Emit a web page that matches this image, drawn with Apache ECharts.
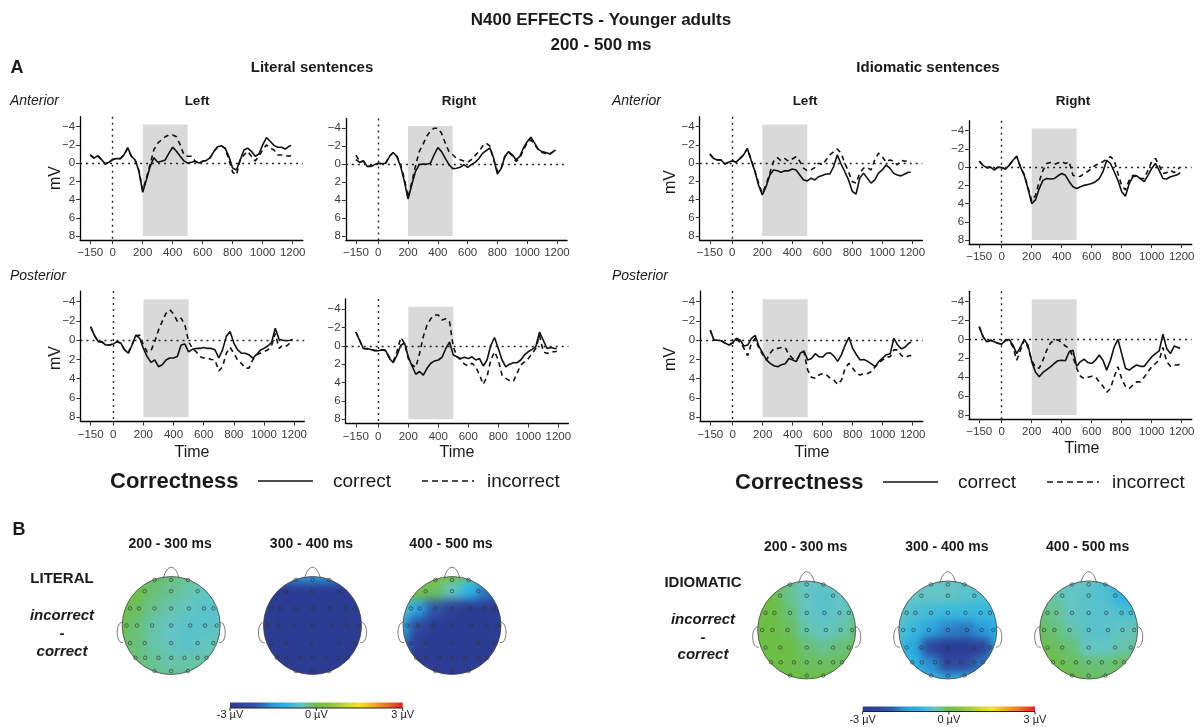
<!DOCTYPE html>
<html>
<head>
<meta charset="utf-8">
<script src="https://cdn.jsdelivr.net/npm/echarts@6/dist/echarts.min.js"></script>
<style>
  html, body { margin: 0; padding: 0; background: #fff; }
  #stage { position: relative; width: 1202px; height: 727px; overflow: hidden; }
  #main { position: absolute; left: 0; top: 0; width: 1202px; height: 727px; z-index: 2; }
  .topo { position: absolute; z-index: 1; filter: blur(5px); }
</style>
</head>
<body>
<div id="stage"><div id="main"></div></div>
<script>
// ---------- ERP data (µV, negative plotted upward) ----------
const timesMs = [-150,-125,-100,-75,-50,-25,0,25,50,75,100,125,150,175,200,225,250,275,300,325,350,375,400,425,450,475,500,525,550,575,600,625,650,675,700,725,750,775,800,825,850,875,900,925,950,975,1000,1025,1050,1075,1100,1125,1150,1175,1190];

const litAntLeftCorrect = [-0.9,-0.55,-0.8,-0.4,0.1,-0.1,-0.4,-0.5,-0.5,-0.9,-1.7,-0.75,-0.35,0.9,3.2,1.8,0.35,-0.6,-0.1,-0.2,-0.35,-1.1,-1.75,-1.3,-0.75,-0.25,0,-0.1,-0.2,0,-0.2,-0.3,-0.6,-1.3,-1.8,-1.9,-1.65,-0.7,0.55,0.75,-0.35,-1.45,-1.65,-1.3,-0.75,-1.0,-2.0,-2.8,-2.4,-1.95,-1.75,-1.75,-1.55,-1.85,-1.95];
const litAntLeftIncorrect = [-0.9,-0.55,-0.8,-0.4,0.1,-0.1,-0.4,-0.5,-0.5,-0.9,-1.6,-0.75,-0.3,0.8,3.0,1.6,0.1,-1.5,-2.2,-2.55,-2.9,-3.1,-3.1,-2.9,-2.0,-0.9,-0.75,-0.75,-0.2,0,-0.2,-0.3,-0.6,-1.3,-1.8,-1.9,-1.6,-0.35,1.0,1.3,-0.35,-0.9,-1.3,-0.75,-0.25,-0.75,-1.45,-2.0,-1.65,-1.45,-0.9,-0.9,-0.85,-0.75,-0.85];

const litAntRightCorrect = [-0.5,-0.2,-0.35,0.25,0.25,0.05,-0.1,-0.05,-0.1,-0.85,-1.3,-0.85,0.25,1.9,3.9,2.3,0.8,0.05,0,0,-0.1,-1.05,-1.85,-1.4,-0.65,0.05,0.5,0.45,0.35,0.05,0.35,0.05,-0.2,-0.6,-1.2,-1.5,-1.8,-0.65,1.1,0.5,-0.85,-1.4,-1.05,-0.5,-0.85,-1.8,-2.5,-3.0,-2.35,-1.65,-1.4,-1.3,-1.15,-1.4,-1.6];
const litAntRightIncorrect = [-1.0,-0.3,-0.35,0.25,0.2,0.05,-0.1,-0.05,-0.15,-0.9,-1.3,-0.9,0.1,1.6,3.7,2.0,0.2,-1.4,-2.2,-3.1,-3.7,-4.0,-4.0,-3.45,-2.35,-1.4,-1.05,-0.65,-0.5,-0.35,-0.2,-0.5,-0.95,-1.4,-2.0,-2.35,-2.0,-0.5,0.8,0.45,-0.85,-1.3,-0.95,-0.3,-0.65,-1.6,-2.35,-2.7,-2.2,-1.6,-1.3,-1.2,-1.05,-1.4,-1.8];

const litPostLeftCorrect = [-1.4,-0.5,0.15,0.15,0.5,0.5,0.4,0.15,0.3,1.0,1.35,0.5,-0.55,-0.2,0.85,1.7,2.3,2.05,2.75,2.55,2.05,1.85,1.85,1.7,0.5,0.4,1.2,0.95,0.85,0.85,0.75,0.85,0.85,1.0,1.85,1.0,-0.4,-0.9,0.3,1.0,1.35,1.35,1.5,1.85,1.5,1.05,0.85,0.6,0.25,-1.25,-0.1,0,0.05,0,-0.1];
const litPostLeftIncorrect = [-1.4,-0.5,0.15,0.2,0.5,0.5,0.4,0.15,0.3,1.0,1.3,0.4,-0.4,-0.55,0.5,1.2,1.1,0.15,-1.05,-1.95,-2.8,-3.15,-2.75,-1.95,-2.3,-1.6,0.15,0.85,1.2,1.7,1.85,1.85,2.0,2.05,3.2,2.75,1.35,0.75,1.35,2.05,2.4,2.9,2.9,2.05,1.5,1.35,1.2,1.0,0.6,-0.7,0.85,0.5,0.6,0.25,0.3];

const litPostRightCorrect = [-1.5,-0.6,0.3,0.3,0.4,0.55,0.55,0.45,0.55,1.4,1.85,1.0,-0.05,-0.3,1.2,2.2,3.1,2.8,3.2,2.45,1.9,1.65,1.55,1.25,0.3,-0.4,1.0,1.2,1.4,1.25,1.4,1.2,1.55,1.4,2.2,1.55,-0.05,-0.9,0.3,1.55,2.3,2.0,1.85,1.85,1.55,1.0,0.65,0.4,0.1,-1.5,-0.6,0.3,0.2,0.3,0.3];
const litPostRightIncorrect = [-1.5,-0.6,0.3,0.35,0.4,0.5,0.5,0.4,0.5,1.3,1.7,0.6,-0.9,-0.25,1.4,2.1,2.35,0.85,-1.0,-2.25,-2.95,-3.35,-3.35,-2.8,-2.95,-2.6,0.1,1.2,1.55,2.0,2.2,1.9,2.3,3.2,4.2,3.35,1.55,0.65,1.55,3.2,3.55,3.8,3.9,3.0,2.1,1.75,1.4,0.85,0.3,-1.15,0.65,0.85,0.65,0.65,0.6];

const idiAntLeftCorrect = [-1.0,-0.5,-0.35,-0.35,0.1,-0.1,-0.25,-0.1,-0.5,-0.9,-1.6,-0.35,0.9,2.4,3.5,2.6,1.3,0.75,0.85,1.0,0.85,0.85,0.65,0.75,1.3,1.85,1.95,1.65,1.85,1.5,1.35,1.2,1.2,0.4,-0.9,0.1,0.95,1.85,3.1,3.4,1.65,1.1,1.65,2.2,1.85,1.1,0.75,0.2,0.55,1.1,1.3,1.4,1.2,1.0,1.0];
const idiAntLeftIncorrect = [-1.0,-0.5,-0.35,-0.35,0.1,-0.1,-0.25,-0.1,-0.5,-0.9,-1.6,-0.4,0.8,2.2,3.3,2.4,1.1,-0.2,-0.6,-0.25,-0.5,-0.2,-0.45,-0.7,-0.2,0.55,0.85,0.75,0.5,0,0.2,-0.35,-0.9,-1.25,-1.55,-1.1,0,0.95,2.05,2.2,1.1,0.55,0.5,0.75,-0.35,-1.1,-0.7,-0.1,-0.35,-0.25,0.2,-0.3,-0.2,-0.3,-0.2];

const idiAntRightCorrect = [-0.65,-0.2,0.05,0,0.3,0,0.05,0.2,-0.2,-0.75,-1.2,0,0.9,2.35,4.0,3.6,2.35,1.45,1.25,1.3,1.25,0.95,0.7,0.9,1.6,2.15,2.35,2.15,2.0,1.9,1.8,1.6,1.25,0.5,-0.75,-0.4,0.5,1.45,2.7,3.2,1.8,1.05,0.95,1.25,1.6,0.9,0.15,-0.4,0.35,1.25,1.3,1.05,0.95,0.8,0.6];
const idiAntRightIncorrect = [-0.65,-0.2,0.05,0,0.3,0,0.05,0.2,-0.2,-0.75,-1.2,0,0.8,2.2,3.7,3.1,1.6,0.35,-0.4,-0.5,-0.3,-0.45,-0.6,-0.4,-0.6,0.9,1.05,1.0,0.7,0.45,0.15,-0.2,-0.4,-0.6,-0.9,-1.15,-0.75,0.7,2.0,2.5,1.45,0.9,0.95,1.25,1.25,0.35,-0.6,-0.95,-0.2,0.7,0.6,0.35,0.6,0.2,0];

const idiPostLeftCorrect = [-1.05,0,0,0.05,0.3,0.5,0.25,-0.2,0,0.6,0.5,-0.2,-0.5,0.65,1.35,2.05,2.4,2.65,2.75,2.55,2.45,1.9,2.05,2.2,1.35,1.1,2.05,1.9,1.4,1.7,1.75,1.35,1.3,1.65,2.2,1.5,0.5,-0.3,0.85,1.5,2.05,2.0,2.2,2.45,2.75,2.2,1.85,1.5,1.4,-0.2,0.5,0.9,0.7,0.3,0.2];
const idiPostLeftIncorrect = [-1.05,0,0,0.1,0.3,0.5,0.3,-0.1,0.2,0.85,1.6,0.3,-0.2,0.85,1.5,2.05,1.35,0.85,0.85,0.75,0.75,1.5,1.9,2.05,1.5,1.2,3.1,3.85,3.95,3.6,3.45,3.6,3.95,4.15,4.6,4.15,2.9,2.4,2.9,3.45,3.6,3.45,3.45,3.25,2.75,2.35,2.05,1.75,1.7,1.0,1.0,1.6,1.8,1.6,1.6];

const idiPostRightCorrect = [-1.35,-0.3,0.25,0.05,0.25,0.4,0.5,0.05,0,0.6,1.5,0.8,0,0.6,2.35,3.45,3.95,3.5,3.2,2.9,2.55,2.25,2.2,2.25,1.3,1.15,2.85,2.35,2.1,2.45,2.55,2.2,1.65,2.2,3.25,2.2,0.8,0,1.5,3.05,3.25,2.95,2.7,2.85,2.85,2.35,1.85,1.5,1.2,-0.55,0.95,1.5,0.7,0.85,0.95];
const idiPostRightIncorrect = [-1.35,-0.3,0.25,0.1,0.25,0.4,0.5,0.1,0.1,0.8,2.2,1.15,0.05,0.85,2.2,2.95,3.05,2.2,1.15,0.4,0.05,0.05,0.35,0.7,0.95,1.85,3.05,3.9,4.15,4.0,3.9,3.95,4.5,4.95,5.6,5.2,3.95,2.9,4.15,5.0,5.2,4.85,4.5,4.5,4.0,3.45,2.9,2.55,2.2,0.85,2.35,2.85,2.7,2.7,2.6];

const xTicks = [-150, 0, 200, 400, 600, 800, 1000, 1200];
const yTicks = [-4, -2, 0, 2, 4, 6, 8];
const windowMs = [200, 500];
const shadeMv = [-4.25, 8];

// ---------- topographic difference maps (incorrect - correct, µV), 7x7, front row first ----------
const litTopo200 = [
  [ 0.1, 0.0,-0.1,-0.2,-0.3,-0.4,-0.4],
  [ 0.1, 0.0,-0.2,-0.3,-0.4,-0.5,-0.5],
  [ 0.1,-0.1,-0.3,-0.4,-0.5,-0.6,-0.6],
  [ 0.0,-0.2,-0.4,-0.5,-0.6,-0.6,-0.5],
  [-0.1,-0.2,-0.4,-0.5,-0.6,-0.5,-0.4],
  [-0.1,-0.2,-0.3,-0.4,-0.4,-0.4,-0.3],
  [-0.1,-0.2,-0.3,-0.3,-0.3,-0.3,-0.3]
];
const litTopo300 = [
  [-2.6,-2.0,-1.5,-1.4,-1.5,-2.0,-2.6],
  [-3.0,-3.0,-3.0,-3.0,-3.0,-3.0,-3.0],
  [-3.0,-3.0,-3.0,-3.0,-3.0,-3.0,-3.0],
  [-3.0,-3.0,-3.0,-3.0,-3.0,-3.0,-3.0],
  [-3.0,-3.0,-3.0,-3.0,-3.0,-3.0,-3.0],
  [-3.0,-3.0,-3.0,-3.0,-3.0,-3.0,-3.0],
  [-3.0,-3.0,-3.0,-3.0,-3.0,-3.0,-3.0]
];
const litTopo400 = [
  [ 0.3, 0.3, 0.3, 0.1,-0.3,-1.2,-2.4],
  [ 0.2, 0.1,-0.1,-0.5,-1.0,-1.8,-2.8],
  [-0.6,-1.3,-2.1,-2.7,-3.0,-3.0,-3.0],
  [-1.1,-2.3,-3.0,-3.0,-3.0,-3.0,-3.0],
  [-1.6,-2.8,-3.0,-3.0,-3.0,-3.0,-3.0],
  [-2.4,-3.0,-3.0,-3.0,-3.0,-3.0,-3.0],
  [-3.0,-3.0,-3.0,-3.0,-3.0,-3.0,-3.0]
];
const idiTopo200 = [
  [0.0, 0.0,-0.3,-0.5,-0.5,-0.4,-0.2],
  [0.0, 0.0,-0.3,-0.5,-0.6,-0.5,-0.3],
  [0.0, 0.0,-0.2,-0.5,-0.6,-0.5,-0.3],
  [0.0, 0.0,-0.1,-0.4,-0.5,-0.4,-0.2],
  [0.0, 0.0, 0.0,-0.2,-0.3,-0.2,-0.1],
  [0.0, 0.0, 0.0,-0.1,-0.1,-0.1, 0.0],
  [0.0, 0.0, 0.0, 0.0, 0.0, 0.0, 0.0]
];
const idiTopo300 = [
  [-0.5,-0.5,-0.5,-0.5,-0.5,-0.6,-0.7],
  [-0.5,-0.5,-0.5,-0.5,-0.6,-0.7,-0.8],
  [-0.5,-0.7,-0.8,-0.9,-0.9,-0.9,-0.9],
  [-0.6,-0.9,-1.3,-1.7,-1.8,-1.5,-1.0],
  [-0.8,-1.2,-2.5,-3.0,-3.0,-2.7,-1.2],
  [-0.7,-1.0,-1.6,-2.4,-2.4,-1.8,-1.0],
  [-0.6,-0.8,-0.9,-1.0,-1.0,-0.9,-0.8]
];
const idiTopo400 = [
  [-0.3,-0.4,-0.5,-0.5,-0.8,-1.4,-2.0],
  [-0.3,-0.4,-0.5,-0.6,-0.7,-1.1,-1.6],
  [-0.2,-0.3,-0.5,-0.6,-0.6,-0.7,-0.8],
  [-0.1,-0.2,-0.4,-0.6,-0.6,-0.5,-0.4],
  [ 0.0,-0.1,-0.2,-0.5,-0.5,-0.4,-0.3],
  [ 0.0, 0.0,-0.1,-0.2,-0.2,-0.1,-0.1],
  [ 0.0, 0.0, 0.0,-0.1,-0.1, 0.0, 0.0]
];

// electrode sites on the unit head circle (x right, y toward the back)
const electrodes = [
  [-0.34,-0.93],[0,-0.93],[0.34,-0.93],
  [-0.54,-0.70],[0,-0.70],[0.54,-0.70],
  [-0.84,-0.35],[-0.66,-0.35],[-0.34,-0.35],[0,-0.35],[0.36,-0.35],[0.67,-0.35],[0.86,-0.35],
  [-0.91,0],[-0.70,0],[-0.39,0],[0,0],[0.39,0],[0.69,0],[0.93,0],
  [-0.84,0.36],[-0.54,0.36],[0,0.36],[0.54,0.36],[0.86,0.36],
  [-0.73,0.66],[-0.53,0.66],[-0.26,0.66],[0,0.66],[0.27,0.66],[0.54,0.66],[0.72,0.66],
  [-0.34,0.93],[0,0.93],[0.34,0.93]
];

const scaleMin = -3, scaleMax = 3;
const scaleColors = ['#2c3c93','#2e449b','#2f5cad','#2b9bdc','#2db5e6','#64c5c4','#6dbe45','#8cc63f','#c4d82e','#f3e41c','#f5a81f','#ef6b22','#e31f27'];

// ---------- layout ----------
const FONT = '"Liberation Sans", Arial, Helvetica, sans-serif';
const panels = [
  { correct: litAntLeftCorrect,   incorrect: litAntLeftIncorrect,   box: [80.1, 116.7, 302.8, 240.1] },
  { correct: litAntRightCorrect,  incorrect: litAntRightIncorrect,  box: [345.9, 118.4, 567.0, 240.0] },
  { correct: litPostLeftCorrect,  incorrect: litPostLeftIncorrect,  box: [80.5, 291.1, 304.3, 421.6] },
  { correct: litPostRightCorrect, incorrect: litPostRightIncorrect, box: [345.7, 298.9, 568.4, 423.4] },
  { correct: idiAntLeftCorrect,   incorrect: idiAntLeftIncorrect,   box: [699.7, 116.7, 922.4, 240.0] },
  { correct: idiAntRightCorrect,  incorrect: idiAntRightIncorrect,  box: [969.1, 120.7, 1191.8, 244.1] },
  { correct: idiPostLeftCorrect,  incorrect: idiPostLeftIncorrect,  box: [700.1, 291.1, 922.8, 421.6] },
  { correct: idiPostRightCorrect, incorrect: idiPostRightIncorrect, box: [969.1, 291.3, 1191.8, 419.2] }
];

const HEAD_R = 49;
const heads = [
  { values: litTopo200, cx: 171.2, cy: 625.5, title: '200 - 300 ms', ty: 544 },
  { values: litTopo300, cx: 312.5, cy: 625.5, title: '300 - 400 ms', ty: 544 },
  { values: litTopo400, cx: 452.0, cy: 625.5, title: '400 - 500 ms', ty: 544 },
  { values: idiTopo200, cx: 806.7, cy: 630.0, title: '200 - 300 ms', ty: 547.5 },
  { values: idiTopo300, cx: 947.8, cy: 630.0, title: '300 - 400 ms', ty: 547.5 },
  { values: idiTopo400, cx: 1088.7, cy: 630.0, title: '400 - 500 ms', ty: 547.5 }
];

const minusSign = v => String(v).replace('-', '\u2212');

// ---------- ERP panels ----------
const grids = [], xAxes = [], yAxes = [], series = [];
panels.forEach((p, i) => {
  const [l, t, r, b] = p.box;
  grids.push({ left: l, top: t, width: r - l, height: b - t, outerBoundsMode: 'none' });
  xAxes.push({
    type: 'value', gridIndex: i, min: -217.5, max: 1267.5,
    splitLine: { show: false },
    axisLine: { onZero: false, lineStyle: { color: '#000', width: 1.3 } },
    axisTick: { customValues: xTicks, length: 4, lineStyle: { color: '#333', width: 1 } },
    axisLabel: { customValues: xTicks, formatter: minusSign, color: '#3a3a3a', fontSize: 11.5, fontFamily: FONT, margin: 7 }
  });
  yAxes.push({
    type: 'value', gridIndex: i, min: -5.1, max: 8.45, inverse: true,
    splitLine: { show: false },
    axisLine: { onZero: false, lineStyle: { color: '#000', width: 1.3 } },
    axisTick: { customValues: yTicks, length: 4, lineStyle: { color: '#333', width: 1 } },
    axisLabel: { customValues: yTicks, formatter: minusSign, color: '#3a3a3a', fontSize: 11.5, fontFamily: FONT, margin: 5 }
  });
  series.push({
    type: 'line', name: 'correct', xAxisIndex: i, yAxisIndex: i,
    data: timesMs.map((tm, k) => [tm, p.correct[k]]),
    showSymbol: false, symbol: 'none', z: 3,
    lineStyle: { color: '#111', width: 1.6 },
    emphasis: { disabled: true },
    markArea: {
      silent: true, itemStyle: { color: '#d9d9d9' },
      data: [[{ xAxis: windowMs[0], yAxis: shadeMv[0] }, { xAxis: windowMs[1], yAxis: shadeMv[1] }]]
    },
    markLine: {
      silent: true, symbol: ['none', 'none'], label: { show: false },
      lineStyle: { color: '#222', width: 1.4, type: [2, 4] },
      data: [{ xAxis: 0 }, { yAxis: 0 }]
    }
  });
  series.push({
    type: 'line', name: 'incorrect', xAxisIndex: i, yAxisIndex: i,
    data: timesMs.map((tm, k) => [tm, p.incorrect[k]]),
    showSymbol: false, symbol: 'none', z: 3,
    lineStyle: { color: '#111', width: 1.6, type: [5, 4] },
    emphasis: { disabled: true }
  });
});

// electrode markers on each head
heads.forEach((h, k) => {
  const gi = panels.length + k;
  grids.push({ left: h.cx - HEAD_R, top: h.cy - HEAD_R, width: 2 * HEAD_R, height: 2 * HEAD_R, outerBoundsMode: 'none' });
  xAxes.push({ type: 'value', gridIndex: gi, min: -1, max: 1, show: false });
  yAxes.push({ type: 'value', gridIndex: gi, min: -1, max: 1, inverse: true, show: false });
  series.push({
    type: 'scatter', xAxisIndex: gi, yAxisIndex: gi, data: electrodes, silent: true, z: 10,
    symbol: 'circle', symbolSize: 3.5,
    itemStyle: { color: 'rgba(255,255,255,0)', borderColor: '#333', borderWidth: 0.8 }
  });
});

// ---------- text and decorations ----------
function txt(text, x, y, font, extra) {
  return Object.assign({
    type: 'text', x: x, y: y, z: 100,
    style: Object.assign({
      text: text, font: font, fill: '#1a1a1a',
      align: 'center', verticalAlign: 'middle',
      textAlign: 'center', textVerticalAlign: 'middle'
    }, (extra && extra.style) || {})
  }, extra && extra.rotation !== undefined ? { rotation: extra.rotation } : {});
}
const leftTxt = { style: { align: 'left', textAlign: 'left' } };

const g = [];
g.push(txt('N400 EFFECTS - Younger adults', 601, 20, 'bold 17px ' + FONT));
g.push(txt('200 - 500 ms', 601, 45, 'bold 17px ' + FONT));
g.push(txt('A', 17, 68, 'bold 18px ' + FONT));
g.push(txt('Literal sentences', 312, 68, 'bold 15px ' + FONT));
g.push(txt('Idiomatic sentences', 928, 68, 'bold 15px ' + FONT));

g.push(txt('Anterior', 10, 101, 'italic 14px ' + FONT, leftTxt));
g.push(txt('Posterior', 10, 276, 'italic 14px ' + FONT, leftTxt));
g.push(txt('Anterior', 612, 101, 'italic 14px ' + FONT, leftTxt));
g.push(txt('Posterior', 612, 276, 'italic 14px ' + FONT, leftTxt));
g.push(txt('Left', 197, 101, 'bold 13.5px ' + FONT));
g.push(txt('Right', 459, 101, 'bold 13.5px ' + FONT));
g.push(txt('Left', 805, 101, 'bold 13.5px ' + FONT));
g.push(txt('Right', 1073, 101.5, 'bold 13.5px ' + FONT));

[[56, 178], [56, 358], [671, 182], [671, 359]].forEach(([x, y]) => {
  g.push(txt('mV', x, y, '16px ' + FONT, { rotation: Math.PI / 2 }));
});
[[192, 452.5], [457, 452.5], [812, 452.5], [1082, 448.5]].forEach(([x, y]) => {
  g.push(txt('Time', x, y, '16px ' + FONT));
});

// legends
function legend(x0, y) {
  return [
    txt('Correctness', x0, y, 'bold 22px ' + FONT, leftTxt),
    { type: 'line', z: 100, shape: { x1: x0 + 148, y1: y - 1, x2: x0 + 203, y2: y - 1 }, style: { stroke: '#111', lineWidth: 1.5 } },
    txt('correct', x0 + 223, y, '19px ' + FONT, leftTxt),
    { type: 'line', z: 100, shape: { x1: x0 + 312, y1: y - 1, x2: x0 + 364, y2: y - 1 }, style: { stroke: '#111', lineWidth: 1.5, lineDash: [6, 4] } },
    txt('incorrect', x0 + 377, y, '19px ' + FONT, leftTxt)
  ];
}
g.push(...legend(110, 482));
g.push(...legend(735, 483));

// section B
g.push(txt('B', 19, 530, 'bold 18px ' + FONT));
g.push(txt('LITERAL', 62, 579, 'bold 15px ' + FONT));
g.push(txt('incorrect', 62, 616, 'italic bold 15px ' + FONT));
g.push(txt('-', 62, 634, 'italic bold 15px ' + FONT));
g.push(txt('correct', 62, 652, 'italic bold 15px ' + FONT));
g.push(txt('IDIOMATIC', 703, 583, 'bold 15px ' + FONT));
g.push(txt('incorrect', 703, 619.5, 'italic bold 15px ' + FONT));
g.push(txt('-', 703, 637.5, 'italic bold 15px ' + FONT));
g.push(txt('correct', 703, 655, 'italic bold 15px ' + FONT));

heads.forEach(h => {
  const { cx, cy } = h, r = HEAD_R;
  g.push(txt(h.title, cx - 1, h.ty, 'bold 14px ' + FONT));
  g.push({ type: 'circle', z: 60, shape: { cx: cx, cy: cy, r: r }, style: { fill: 'none', stroke: '#444', lineWidth: 0.8 } });
  g.push({ type: 'bezierCurve', z: 60, shape: { x1: cx - 8, y1: cy - r + 2, cpx1: cx - 4, cpy1: cy - r - 13, cpx2: cx + 4, cpy2: cy - r - 13, x2: cx + 8, y2: cy - r + 2 }, style: { fill: 'none', stroke: '#555', lineWidth: 0.8 } });
  g.push({ type: 'bezierCurve', z: 60, shape: { x1: cx - r + 1, y1: cy - 3, cpx1: cx - r - 7, cpy1: cy - 5, cpx2: cx - r - 7, cpy2: cy + 19, x2: cx - r + 1, y2: cy + 17 }, style: { fill: 'none', stroke: '#555', lineWidth: 0.8 } });
  g.push({ type: 'bezierCurve', z: 60, shape: { x1: cx + r - 1, y1: cy - 3, cpx1: cx + r + 7, cpy1: cy - 5, cpx2: cx + r + 7, cpy2: cy + 19, x2: cx + r - 1, y2: cy + 17 }, style: { fill: 'none', stroke: '#555', lineWidth: 0.8 } });
});

// colour scales
function colorbar(x0, x1, y0, h, ly) {
  const stops = scaleColors.map((c, i) => ({ offset: i / (scaleColors.length - 1), color: c }));
  const xm = (x0 + x1) / 2;
  return [
    { type: 'rect', z: 60, shape: { x: x0, y: y0, width: x1 - x0, height: h }, style: { fill: { type: 'linear', x: 0, y: 0, x2: 1, y2: 0, colorStops: stops } } },
    { type: 'line', z: 61, shape: { x1: x0, y1: y0 + h, x2: x1, y2: y0 + h }, style: { stroke: '#222', lineWidth: 1 } },
    { type: 'line', z: 61, shape: { x1: x0, y1: y0 + h, x2: x0, y2: y0 + h + 3 }, style: { stroke: '#222', lineWidth: 1 } },
    { type: 'line', z: 61, shape: { x1: xm, y1: y0 + h, x2: xm, y2: y0 + h + 3 }, style: { stroke: '#222', lineWidth: 1 } },
    { type: 'line', z: 61, shape: { x1: x1, y1: y0 + h, x2: x1, y2: y0 + h + 3 }, style: { stroke: '#222', lineWidth: 1 } },
    txt(scaleMin + ' \u00b5V', x0, ly, '11px ' + FONT),
    txt('0 \u00b5V', xm, ly, '11px ' + FONT),
    txt(scaleMax + ' \u00b5V', x1, ly, '11px ' + FONT)
  ];
}
g.push(...colorbar(230, 402.7, 702.5, 5.5, 715));
g.push(...colorbar(862.7, 1035, 706.5, 5, 719.5));

const chart = echarts.init(document.getElementById('main'), null, { renderer: 'canvas' });
chart.setOption({
  backgroundColor: 'rgba(0,0,0,0)',
  animation: false,
  textStyle: { fontFamily: FONT },
  grid: grids, xAxis: xAxes, yAxis: yAxes, series: series,
  graphic: { elements: g }
});

// ---------- smoothed topographic fields, clipped to the head ----------
const stage = document.getElementById('stage');
heads.forEach(h => {
  const s = 2 * (HEAD_R + 12);
  const div = document.createElement('div');
  div.className = 'topo';
  div.style.left = (h.cx - s / 2) + 'px';
  div.style.top = (h.cy - s / 2) + 'px';
  div.style.width = s + 'px';
  div.style.height = s + 'px';
  div.style.clipPath = 'circle(' + HEAD_R + 'px at 50% 50%)';
  stage.insertBefore(div, stage.firstChild);
  const cells = [];
  h.values.forEach((row, ri) => row.forEach((v, ci) => cells.push([ci, ri, v])));
  const idx = h.values[0].map((_, i) => String(i));
  const tc = echarts.init(div, null, { renderer: 'canvas' });
  tc.setOption({
    animation: false,
    grid: { left: 0, right: 0, top: 0, bottom: 0, outerBoundsMode: 'none' },
    xAxis: { type: 'category', data: idx, show: false },
    yAxis: { type: 'category', data: h.values.map((_, i) => String(i)), inverse: true, show: false },
    visualMap: { show: false, type: 'continuous', min: scaleMin, max: scaleMax, inRange: { color: scaleColors } },
    series: [{ type: 'heatmap', data: cells, silent: true, itemStyle: { borderWidth: 0 }, emphasis: { disabled: true } }]
  });
});
</script>
</body>
</html>
